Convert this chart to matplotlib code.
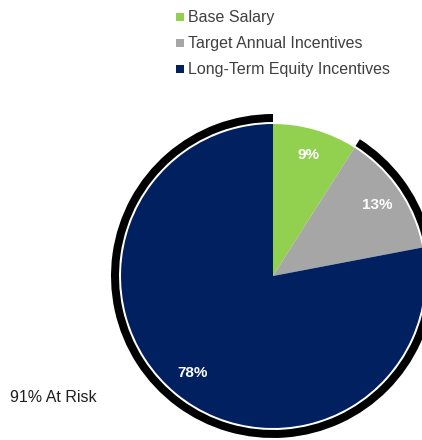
import matplotlib
matplotlib.use('Agg')
import matplotlib.pyplot as plt
from matplotlib.patches import Wedge

plt.rcParams['font.family'] = ['Liberation Sans', 'DejaVu Sans']

# 데이터
categories = ['Base Salary', 'Target Annual Incentives', 'Long-Term Equity Incentives']
shares = [9, 13, 78]
colors = ['#92D050', '#A6A6A6', '#002060']
at_risk_label = '91% At Risk'
at_risk_share = 91

W, H = 422, 440
fig = plt.figure(figsize=(W / 100, H / 100), dpi=100)
ax = fig.add_axes([0, 0, 1, 1])

# 파이 (픽셀 좌표, y는 위쪽이 +)
cx, cy, r = 273, H - 276, 152
wedges, texts, autotexts = ax.pie(
    shares, colors=colors, center=(cx, cy), radius=r,
    startangle=90, counterclock=False, frame=True,
    autopct='%d%%', pctdistance=0.83,
    wedgeprops=dict(linewidth=0),
    textprops=dict(color='white', fontsize=11, fontweight='bold'))

# 위험 보상 구간을 감싸는 검은 호
end_angle = 90 - 360 * (100 - at_risk_share) / 100
ax.add_patch(Wedge((cx, cy), r + 10, 90, end_angle + 360, width=8,
                   facecolor='black', edgecolor='none'))

# 범례 (직접 그림)
for i, (cat, col) in enumerate(zip(categories, colors)):
    y = H - (17 + 26 * i)
    ax.scatter([180], [y], marker='s', s=33, color=col, linewidths=0)
    ax.text(188.5, y, cat, fontsize=11.5, color='#404040', va='center', ha='left')

ax.text(10, H - 397, at_risk_label, fontsize=11.5, color='#202020', va='center', ha='left')

ax.set_xlim(0, W)
ax.set_ylim(0, H)
ax.set_aspect('equal')
ax.axis('off')

plt.savefig('out.png', dpi=100)
